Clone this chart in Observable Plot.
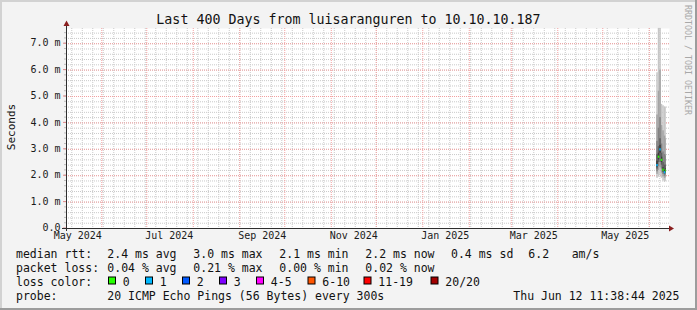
<!DOCTYPE html>
<html>
<head>
<meta charset="utf-8">
<script src="https://cdn.jsdelivr.net/npm/d3@7"></script>
<script src="https://cdn.jsdelivr.net/npm/@observablehq/plot@0.6"></script>
<style>
  html, body { margin: 0; padding: 0; background: #f3f3f3; }
  #c { position: relative; width: 697px; height: 310px; }
  svg text { font-family: "DejaVu Sans Mono", monospace; }
</style>
</head>
<body>
<div id="c"></div>
<script>
// ---- data ----
const graphStart = "2024-05-08T11:38:44Z";
const graphEnd   = "2025-06-12T11:38:44Z";
const yMax = 7.576;
const yMajorTicks = [0, 1, 2, 3, 4, 5, 6, 7];
const yTickLabels = ["0.0", "1.0 m", "2.0 m", "3.0 m", "4.0 m", "5.0 m", "6.0 m", "7.0 m"];
const xLabelDates = ["2024-05-16", "2024-07-16", "2024-09-16", "2024-11-16", "2025-01-16", "2025-03-16", "2025-05-16"];
const xLabelTexts = ["May 2024", "Jul 2024", "Sep 2024", "Nov 2024", "Jan 2025", "Mar 2025", "May 2025"];

// smoke (ms) per day: outer -> inner ping pairs
const smokeDays = ["2025-06-06", "2025-06-07", "2025-06-08", "2025-06-09", "2025-06-10", "2025-06-11", "2025-06-12"];
const pingLo1 = [1.90, 1.95, 2.00, 1.90, 1.80, 1.75, 1.78];
const pingHi1 = [5.90, 7.58, 7.58, 4.70, 4.65, 4.60, 4.60];
const pingLo2 = [2.05, 2.20, 2.30, 2.10, 1.95, 1.90, 1.92];
const pingHi2 = [4.30, 5.20, 6.00, 3.90, 3.70, 3.50, 3.40];
const pingLo3 = [2.15, 2.35, 2.50, 2.25, 2.05, 1.98, 2.02];
const pingHi3 = [3.30, 3.80, 4.20, 3.20, 2.90, 2.80, 2.75];
const pingLo4 = [2.25, 2.50, 2.70, 2.40, 2.12, 2.05, 2.10];
const pingHi4 = [2.80, 3.10, 3.40, 2.85, 2.50, 2.40, 2.40];
const pingLo5 = [2.32, 2.60, 2.85, 2.50, 2.18, 2.10, 2.15];
const pingHi5 = [2.55, 2.85, 3.15, 2.70, 2.30, 2.20, 2.27];
const medianRtt = [2.40, 2.72, 3.00, 2.60, 2.23, 2.13, 2.20];
const lossCount = [1, 0, 1, 0, 0, 1, 0];

const lossLabels = ["0", "1", "2", "3", "4-5", "6-10", "11-19", "20/20"];
const lossColors = ["#26ff00", "#00b8ff", "#0059ff", "#7e00ff", "#ff00fe", "#ff5500", "#ff0000", "#a10000"];
const bandShades = ["#c6c6c6", "#a4a4a4", "#828282", "#5e5e5e", "#3c3c3c"];

// ---- build tables ----
const t0 = new Date(graphStart), tEnd = new Date(graphEnd);
const day = 864e5;
const xDomainEnd = new Date(+tEnd + 2 * day);
const lows = [pingLo1, pingLo2, pingLo3, pingLo4, pingLo5];
const highs = [pingHi1, pingHi2, pingHi3, pingHi4, pingHi5];
const rows = smokeDays.map((d, i) => {
  const a = new Date(d + "T00:00:00Z");
  const b = new Date(Math.min(+a + day, +tEnd));
  return {a, b, i, med: medianRtt[i], loss: lossColors[Math.min(lossCount[i], 7)]};
});
const bandMarks = lows.map((lo, k) => Plot.rect(rows, {
  x1: "a", x2: "b", y1: d => lo[d.i], y2: d => highs[k][d.i], fill: bandShades[k]
}));

const minorY = d3.range(0.2, yMax, 0.2);
const weeks = d3.utcSunday.range(t0, xDomainEnd);
const months = d3.utcMonth.range(t0, xDomainEnd);
const gridMinor = "#c9c9c9";
const gridMajor = "#f2a0a0";

const chart = Plot.plot({
  width: 697, height: 310,
  marginLeft: 66, marginRight: 28, marginTop: 28, marginBottom: 82,
  style: {background: "#f3f3f3", fontFamily: "DejaVu Sans Mono", fontSize: "10px", color: "#1a1a1a", overflow: "visible"},
  x: {type: "utc", domain: [t0, xDomainEnd], axis: null},
  y: {domain: [0, yMax], axis: null},
  color: {type: "identity"},
  marks: [
    Plot.frame({fill: "white", stroke: null}),
    Plot.ruleX(weeks, {stroke: gridMinor, strokeDasharray: "1,1"}),
    Plot.ruleY(minorY, {stroke: gridMinor, strokeDasharray: "1,1"}),
    Plot.ruleX(months, {stroke: gridMajor, strokeDasharray: "1,1"}),
    Plot.ruleY(yMajorTicks.slice(1), {stroke: gridMajor, strokeDasharray: "1,1"}),
    ...bandMarks,
    Plot.ruleY(rows, {x1: "a", x2: "b", y: "med", stroke: "loss", strokeWidth: 2.2}),
    Plot.text(yMajorTicks, {y: d => d, text: (d, i) => yTickLabels[i], frameAnchor: "left", textAnchor: "end", dx: -6, dy: -0.5, fontSize: 10, fill: "#1a1a1a"}),
    Plot.text(xLabelDates, {x: d => new Date(d + "T00:00:00Z"), text: (d, i) => xLabelTexts[i], frameAnchor: "bottom", dy: 10, fontSize: 10, fill: "#1a1a1a"})
  ]
});
document.getElementById("c").appendChild(chart);

// ---- decorations: axes, arrows, titles, legend ----
const svg = d3.select(chart);
const sx = chart.scale("x"), sy = chart.scale("y");
const X0 = sx.apply(t0), Y0 = sy.apply(0);
const XR = sx.apply(xDomainEnd), YT = sy.apply(yMax);
const g = svg.append("g");

// small y ticks
minorY.forEach(v => g.append("line").attr("x1", X0 - 2).attr("x2", X0).attr("y1", sy.apply(v)).attr("y2", sy.apply(v)).attr("stroke", "#bbb"));
yMajorTicks.forEach(v => g.append("line").attr("x1", X0 - 3).attr("x2", X0).attr("y1", sy.apply(v)).attr("y2", sy.apply(v)).attr("stroke", "#e08a8a"));

const axisColor = "#2e2e2e", arrowColor = "#8a1f1f";
g.append("line").attr("x1", X0 - 4).attr("x2", XR + 1).attr("y1", Y0 + 0.5).attr("y2", Y0 + 0.5).attr("stroke", axisColor);
g.append("line").attr("x1", X0 + 0.5).attr("x2", X0 + 0.5).attr("y1", Y0 + 3).attr("y2", YT - 3).attr("stroke", axisColor);
g.append("path").attr("d", `M${X0 + 0.5},${YT - 7.5}L${X0 - 2.5},${YT - 2}L${X0 + 3.5},${YT - 2}Z`).attr("fill", arrowColor);
g.append("path").attr("d", `M${XR + 5},${Y0 + 0.5}L${XR},${Y0 - 2.5}L${XR},${Y0 + 3.5}Z`).attr("fill", arrowColor);

function txt(x, y, s, opts = {}) {
  const t = g.append("text").attr("x", x).attr("y", y).text(s)
    .attr("font-size", opts.size || 11.5).attr("fill", opts.fill || "#111")
    .attr("text-anchor", opts.anchor || "start").style("white-space", "pre");
  if (opts.rotate) t.attr("transform", `rotate(${opts.rotate},${x},${y})`);
  return t;
}
txt(348.5, 24, "Last 400 Days from luisaranguren to 10.10.10.187", {size: 13.3, anchor: "middle"});
txt(14.5, 127, "Seconds", {size: 11, anchor: "middle", rotate: -90});
txt(685, 5, "RRDTOOL / TOBI OETIKER", {size: 8.3, fill: "#a8a8a8", rotate: 90});

const rowY = [257.5, 271.5, 285.5, 299.5];
const statX = [107.3, 193.3, 279.3, 365.3, 451, 528.3, 571.7];
const rttStats = ["2.4 ms avg", "3.0 ms max", "2.1 ms min", "2.2 ms now", "0.4 ms sd", "6.2", "am/s"];
const lossStats = ["0.04 % avg", "0.21 % max", "0.00 % min", "0.02 % now"];
txt(16, rowY[0], "median rtt:");
rttStats.forEach((s, i) => txt(statX[i], rowY[0], s));
txt(16, rowY[1], "packet loss:");
lossStats.forEach((s, i) => txt(statX[i], rowY[1], s));
txt(16, rowY[2], "loss color:");
const boxX = [108.5, 145.5, 182.5, 219.5, 256.5, 308, 364, 431];
lossLabels.forEach((s, i) => {
  g.append("rect").attr("x", boxX[i]).attr("y", 277).attr("width", 7).attr("height", 7)
    .attr("fill", lossColors[i]).attr("stroke", "#000").attr("stroke-width", 1);
  txt(boxX[i] + 14.3, rowY[2], s);
});
txt(16, rowY[3], "probe:");
txt(107.3, rowY[3], "20 ICMP Echo Pings (56 Bytes) every 300s");
txt(513.3, rowY[3], "Thu Jun 12 11:38:44 2025");

// frame shading
g.append("rect").attr("x", 0).attr("y", 0).attr("width", 697).attr("height", 2).attr("fill", "#d2d2d2");
g.append("rect").attr("x", 0).attr("y", 0).attr("width", 2).attr("height", 310).attr("fill", "#d2d2d2");
g.append("rect").attr("x", 0).attr("y", 308).attr("width", 697).attr("height", 2).attr("fill", "#9c9c9c");
g.append("rect").attr("x", 695).attr("y", 0).attr("width", 2).attr("height", 310).attr("fill", "#9c9c9c");
</script>
</body>
</html>
